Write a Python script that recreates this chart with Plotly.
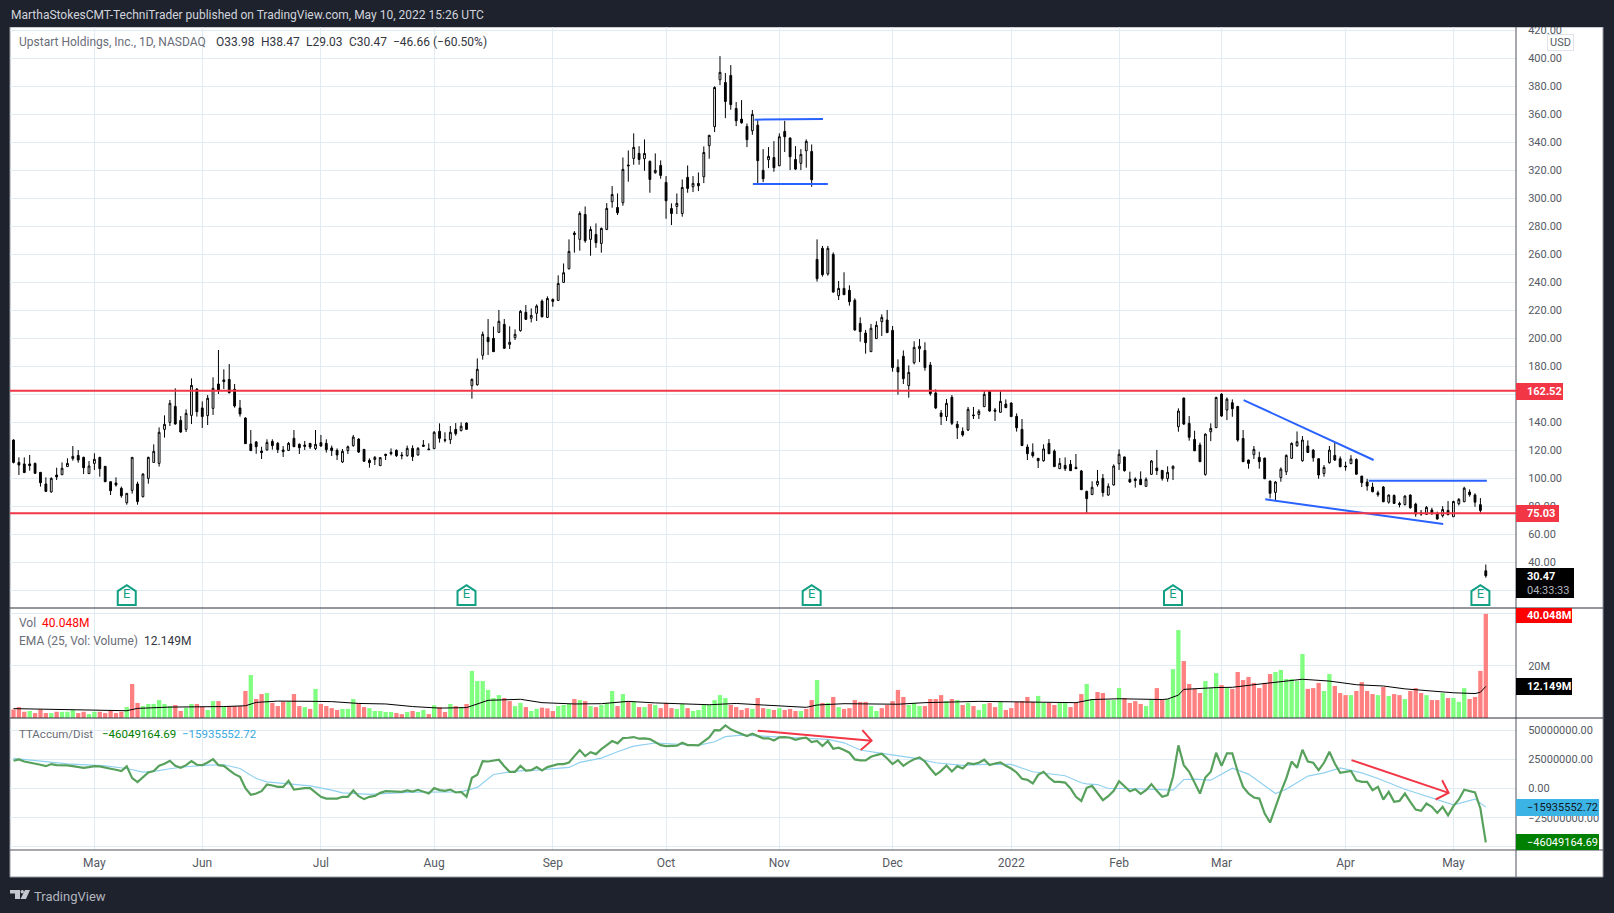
import plotly.graph_objects as go

W, H = 1614, 913
FONT = "Roboto"

opens = [
127.4,111.4,110.3,110.3,110.7,104.3,96,90.3,102.4,102.6,
108.4,114.1,116.4,115,103.4,110.7,115,108.6,97.6,96.7,
92.9,82.6,91.4,96,86.9,100,111.4,110.7,135,140,
151.4,141.4,135,145,163.8,150.3,144.8,150,167.4,170.3,
170.7,163.6,150.3,143.1,124.5,126,119.5,120.3,126.4,125,
120.3,120,128.6,124.3,123.8,125,121.2,125.5,125,121.7,
120,111.7,119.8,123.4,128.1,120.7,112.9,113.4,109.1,117.2,
118.6,120,116.7,116.2,121.4,116.7,123.8,121,121.2,133.6,
127.6,127.6,135,134.1,139.5,166.2,166.9,187.9,200.7,200,
204.3,210,195.7,200.5,205.5,218.6,214.3,217.9,
226.6,215,227.8,227.1,240,249.7,275.2,270.7,288.5,270.7,
274.2,267.8,277.8,297.6,293.5,296.9,323.8,328.5,332.1,328.3,
326.4,318.3,323.5,311.4,292.8,294.2,289.2,315,308.3,310.7,
315.4,337.6,351.2,384.7,382.8,387.8,364.2,356.6,351.4,348.3,
352.3,320,327.6,329.2,323.3,347.8,343.1,327.8,325,334,
333.5,256.4,264.3,246,260,230.5,235.7,234.3,227.2,210.7,
203.8,190.5,199.8,211.9,213.1,205.7,179.3,187.2,166.2,182.6,
192.6,191.4,181,161,146.7,144.1,157.9,138.6,133.6,134.5,
145.3,145.7,151.2,162.2,148.8,147.2,153.1,153.8,144.3,135,
122.4,118.6,114.3,112.6,125,119.5,106.9,109.3,110,107.9,
105.3,90.7,88.4,95.5,100,88.1,95.3,110.5,115.3,99.3,
99.5,99.3,94.3,102.9,107.4,105.7,99.8,106.9,136.9,157.4,
139.3,127.8,123.8,102.8,133.3,136.2,160.2,148.8,154,151.4,
128.5,113.1,116.9,115,114.5,98.1,90,100.5,104.7,114.3,
123.3,112.6,123.1,120.2,114,103.5,111.2,116.4,114,108.8,
110.5,113.5,101.6,97.4,93.8,89.7,93.8,83,87.8,82.1,
81.2,88.1,81.6,75.4,74.3,77.4,74.7,73.3,77.1,72.6,
81.9,83.3,90.2,88.1,81.2,33.98]

highs = [
127.9,115,115,116.7,111.2,104.5,100.7,100.7,107.6,111.4,
114.3,123.1,120.3,115.5,112.4,117.9,115.4,108.8,97.8,100.7,
94.1,89.5,115.2,97.6,103.6,115.5,124.3,136.4,145,156,
164.3,144.5,149.3,171.4,164.3,155,159.5,172.2,191.7,177.9,
181.7,167.4,156,143.6,134.5,126.7,122.6,127.9,127.9,126,
123.1,126,134.5,125,126.7,125.2,134.5,131,127.9,123.4,
121.4,121,123.4,131,128.6,121,114.3,116,115,117.6,
121.4,120.7,118.8,123.4,123.6,122.4,127.4,125,133.8,139.3,
132.9,137.4,139.5,140,140,171.4,185.7,204.8,213.8,208.4,
220.3,213.8,208.6,206.4,220.3,223.8,221.4,224.3,
227.8,230,228.5,245,253.5,270.7,276.6,290.7,294.2,280,
282.1,279.2,296.6,308.8,303.5,329.2,334.2,346.4,337.3,342.1,
327.1,332.1,327.1,315.9,296.4,303.5,313.5,323.5,315.9,318.5,
337.1,345.4,380,401.6,389.5,395.2,368.8,370.2,353.5,363.1,
355.9,335.2,336.6,340.9,346.4,355.4,343.5,337.3,335.2,342.1,
338.5,270.7,266,266,261.4,241,247.2,237.9,228.6,215,
206,210.3,212.2,217.2,220.3,208.8,185,191.4,180.7,197.9,
199.5,197.2,183.1,163.6,148.8,156.7,159.5,141,136.4,151,
151,149.3,163.1,163,150.3,162.2,156.4,154.3,146.4,142.4,
124.3,125,114.5,124.3,128.1,120.7,114.5,115,113.1,117.4,
106,91.2,97.9,106,103.1,96.4,110,120.7,115.5,104.8,
100.7,105,100.7,113.1,120.3,106,108.6,109.3,150,157.6,
144.5,134,125.5,132.1,139.3,158.3,160.7,157.8,156.4,151.6,
134.5,113.3,123.1,119,114.7,98.3,98.1,107.8,117.1,125.7,
133.5,130.2,127.1,120.9,114.5,109.5,123.1,125.5,115.7,111.9,
116.6,114.3,101.8,99.7,96.9,91.2,94.5,88.5,88.5,83.3,
87.8,88.5,82.6,77.4,80.2,79,76.2,80.2,83.8,84,
85.9,94,92.1,89.3,85.9,38.47]

lows = [
110.7,102.4,104.1,105.5,103.1,94.1,90.3,89.8,98.8,102.4,
108.4,112.6,111.2,103.1,103.1,106,101.2,97.4,88.1,94.1,
86.2,81.2,89.1,81.2,86.4,96.2,111.2,108.4,129.1,137.4,
138.4,132.6,133.1,138.8,144.1,136,138.1,145.3,160.3,163.8,
160.7,150.5,144.1,124.6,119.6,117.6,113.8,119.8,120.5,118.1,
115.3,119.5,122.4,117.4,120.3,121,120.3,122.6,118.4,116,
113.1,111,117.4,122.6,118.1,112,107.6,109.5,108.8,113.1,
116.4,115.3,113.6,115.5,112.4,116.2,122.6,120.5,121,125.5,
125.7,124.5,130.5,133.6,134.8,156.9,166.2,184.8,188.1,190.3,
203.8,192.4,192.4,198.8,204.8,213.1,211.4,212.4,
215,214.5,222.6,226.9,239.7,249.2,261.2,262.6,268.3,259,
264.7,261.2,277.3,293.3,288.1,294.7,311.9,324,324,319.7,
304,317.6,314,285.4,280.9,288.8,286.9,304,304.5,305.2,
310.9,328.3,347.3,380.9,357.3,363.3,351.6,353.3,336.6,345.4,
310.2,311.6,321.6,319,323,333.1,320.2,320.2,320.2,321.9,
308.3,240.5,244.1,244.8,232.6,227.4,231,223.4,205.5,197.6,
189.1,190.3,199.6,201.7,204,176.2,159.8,167.4,157.6,181.4,
183.1,176.9,159.1,149.5,138.1,141,138.1,128.1,129.8,133.8,
142.4,142.4,151,147.6,141,147,150.3,144,133.4,123.1,
113.1,114.8,107.4,111.9,117.4,108.1,106.7,105.3,105.3,106.7,
91.7,75.3,88.1,94.1,86.9,87.6,94.8,106,104.8,96.9,
93.4,95.3,94.1,102.4,102.4,98.4,97.6,98.8,133.3,138.1,
126.9,119.5,111.7,101.9,126.6,136,144,141.6,144,126.2,
111.7,106.9,113.8,106.9,99.5,85.7,84.5,97.6,102.4,114,
122.6,111.9,118.1,111.9,99.7,101.2,110.5,112.4,108,105.5,
110.2,102.6,93.8,91.2,90,86.9,83,81.9,81.9,79.3,
80.7,78.3,72.6,73.3,74,74,70.7,72.1,73.8,72.5,
80.7,83,86.9,79.7,75.5,29.03]

closes = [
111.4,109.5,104.1,109.1,103.6,96.9,90.7,100,101,107.2,
110.7,115.7,113.1,107.6,108.8,113.6,106.9,97.6,91.2,95.3,
87.6,89.3,115,83.4,103.1,115,119.3,132.9,138.6,153.6,
138.8,133.1,146.4,166.4,147.6,144.1,157.2,164.3,163.1,169.1,
161.2,151.7,146,124.8,119.8,122.6,118.4,125.7,123.4,120.5,
119.1,125,122.6,121.9,122.9,122.4,124.3,123.1,120.5,119.8,
116.7,119.3,122.6,129.5,118.8,112.2,111.2,115,114.8,116.4,
117.6,116.2,116.2,121.4,115.5,121.4,122.9,120.5,132.9,128.6,
127.2,132.9,131.9,137.2,135,170.7,177.9,202.9,197.6,190.5,
212.2,192.9,197.2,202.9,219.3,213.6,216.4,223.1,
215.4,228.5,226.4,239.2,246.9,262.1,274.2,289.2,269.7,277.8,
268.3,278.5,292.8,302.8,289.7,320.7,323.3,336.4,327.8,332.1,
313.5,320,316.4,298.3,289.2,296.4,307.8,307.1,310.7,309,
332.8,345,379.2,390,369.2,366.9,355.4,354,341.9,360,
326.9,314,330,321.9,344,344,329.7,320.9,331.4,340.7,
313.3,242.6,245.5,264.3,233.1,235.7,231.2,226.2,206,204.8,
196.9,207.2,209.3,215,204.1,179.1,176,171.2,175.7,193.6,
194.3,179.1,160.5,150.3,144.1,153.6,139.3,136.2,131,149.3,
144.8,147.9,160,148.1,147.9,155,150.5,144.1,136.2,123.4,
117.6,116.2,112.6,121,117.6,108.4,110.7,106.9,105.5,106.9,
91.9,85.5,93.6,97.9,89.8,94.3,108.8,117.2,105.5,97.4,
98.4,95.5,99.3,112.4,105.5,99.8,104.3,108.6,148.1,138.8,
129.3,119.7,111.9,131.6,135.7,157.8,144.5,156.6,149.7,127.4,
111.9,110.7,120.7,111.9,99.7,89.3,97.4,106.6,116.4,125,
126.2,127.4,118.5,114.7,102.4,107.8,120.2,113.1,108.3,108.3,
113.8,103,96.9,94.5,90.5,88.3,83.3,88.1,82.1,81.2,
87.4,79,74.5,74.5,79.3,74.7,70.9,77.8,74,83.5,
85,93,88.3,83,77.13,30.47]

# volume in millions
volumes = [
3.3,4.2,2.4,2.7,1.9,3.3,1.9,1.9,2.4,2.4,
2.4,3.1,1.9,2.4,1.5,2.4,2.4,1.9,2.7,1.9,
2.4,4.2,13.1,5.8,4.6,5.4,5.4,6.9,5.4,4.6,
5.0,2.7,4.0,5.4,5.4,4.4,3.1,6.5,6.5,4.4,
4.6,4.6,4.6,10.4,16.5,7.3,9.2,9.6,5.8,4.6,
6.3,6.3,9.2,4.6,4.2,3.5,11.2,5.4,4.6,3.8,
3.1,3.5,3.5,7.3,5.8,4.2,3.8,2.7,2.7,2.3,
2.3,1.9,1.5,2.3,2.7,2.3,3.1,1.5,4.9,4.2,
2.3,5.4,4.6,4.2,5.4,18.1,14.2,14.2,10.8,7.7,
8.8,7.7,6.5,4.6,5.8,4.2,2.7,3.5,
4.0,3.7,2.7,4.6,5.0,5.4,7.3,6.9,6.5,4.6,
4.2,5.0,5.8,10.4,4.6,9.2,6.5,6.2,4.2,4.2,
5.4,5.0,3.8,5.8,3.8,3.5,5.4,3.8,2.7,3.1,
5.0,5.0,6.9,8.8,7.7,5.0,4.2,3.1,3.8,3.5,
7.7,3.8,3.5,3.1,3.8,3.1,3.5,2.7,2.7,3.5,
6.9,14.6,5.8,5.8,8.1,4.2,3.5,3.8,6.9,6.2,
6.2,4.6,2.7,3.8,5.0,6.5,10.8,8.1,5.0,5.8,
4.6,4.6,7.3,7.3,8.8,6.5,7.3,6.9,5.0,5.8,
4.6,3.1,5.4,5.8,4.2,6.2,3.1,3.8,6.2,6.5,
8.1,6.2,8.5,5.8,5.8,5.0,5.8,6.2,4.2,5.8,
9.2,13.1,7.3,10.0,9.6,6.9,6.9,11.5,7.7,5.8,
6.5,5.4,4.6,6.9,11.5,6.9,7.3,18.8,33.8,21.9,
13.1,11.2,9.6,14.2,11.5,17.3,12.7,11.5,11.2,17.7,
14.6,15.8,13.5,11.5,13.5,16.9,17.7,18.5,15.0,15.0,
14.2,24.6,11.2,11.5,13.5,10.4,16.9,12.3,9.6,8.8,
8.8,10.4,13.8,10.4,9.2,8.8,11.9,8.5,9.2,8.8,
7.3,10.4,11.5,9.6,8.8,6.9,6.9,9.6,7.7,7.7,
6.2,11.5,7.3,8.1,18.1,40.048]

volume_dirs = (
"RRRGRRRGRG" "GGRRGGRRRR" "RGRRGGGGGG" "RRGGRRGGRG" "RRRRGRRGRR"
"RGRRGRGRRR" "RGGGRRGGGG" "GRRGRGGRGR" "RGRGRGGGGG" "GRRGGRGG"
"RR" "RGGGRGRGRG" "GGRGRGRGRG" "RRRGGRGGGG" "GGGRRRRGRR"
"GRGRRRGRRG" "RGRGRRRRRG" "GRRRRRGGGR" "RRRGRGRGRG" "GRRGRRRRRR"
"GGRRGGRRRG" "GRRGGGRRRR" "GGRRGGGRRR" "RGGGRGRRRR" "RRRRGGGGGG"
"RRRGGRRRGR" "RRRGRGRRGR" "RRGRRGRGGG" "RRRR")

ema_bars = [1,10,20,22,24,30,40,44,46,50,57,60,65,70,75,80,85,87,89,95,99,105,110,115,120,130,135,
            140,148,150,155,165,170,180,190,198,201,206,214,215,217,218,224,227,231,237,240,245,250,255,259,268,272,273,274]
ema_vals = [3.6,3.2,2.7,2.8,3.7,4.2,4.4,4.7,6.0,6.5,6.4,6.3,5.6,5.4,4.4,3.8,4.0,5.5,6.8,7.2,5.9,5.4,5.5,6.4,5.8,5.1,5.6,
            5.0,4.1,5.0,5.5,5.3,5.9,6.4,6.0,5.9,7.1,7.4,7.1,7.3,8.8,11.0,11.7,11.8,12.8,14.1,14.9,14.2,12.8,12.3,11.2,9.7,9.4,9.9,12.149]

# TTAccum/Dist in millions
accum = [
23.7,24.9,23.1,22.3,21.4,20.3,19.1,20.9,20,20,
19.7,19.1,18.6,17.7,18.3,19.1,18.9,17.7,16.9,16,
14.9,18.9,8.9,5.4,10,13.7,14.9,19.4,21.1,23.7,
19.4,17.7,20,23.4,20.3,20,22.3,25.1,20,19.4,
15.7,12.3,10,0.3,-5.4,-4.3,-2.3,3.4,2.6,1.4,
1.4,6.6,-0.9,0,0.3,0.3,-3.7,-7.1,-8.6,-8.6,
-8.6,-7.1,-7.1,-1.7,-6.6,-9.1,-7.1,-6.3,-3.7,-2.3,
-2.3,-2.9,-2.9,-1.7,-2.6,-1.1,-2.9,-4.3,0.3,-1.4,
-2,-0.9,-3.4,-2.9,-7.1,9.1,11.7,23.4,23.1,23.7,
24.6,19.1,14.3,14.3,19.4,15.4,15.7,18.3,
15.4,18.3,19.4,20.9,20.9,22.3,27.7,32.9,27.7,31.1,
29.4,33.7,37.1,40.6,38.6,43.1,43.4,44,42.6,42.9,
42.3,40,37.1,36.3,36.3,36.6,39.1,37.1,37.1,36.9,
40.3,43.7,50,49.7,54,50.6,48.6,46.6,44.9,46.9,
45.1,42.9,42.9,41.1,43.7,44,43.4,41.7,42.9,43.4,
39.7,40.6,36.3,40.6,34,34.9,32.9,30.6,24.9,24,
24,27.1,28.6,29.7,25.7,20.9,24.3,19.4,22.6,25.1,
26.6,23.1,17.1,11.7,15.1,19.7,14.6,19.1,17.1,21.7,
20.9,22,24.6,20,21.4,22.3,19.4,17.1,13.7,8.3,
7.4,4.3,11.7,14.3,9.4,5.7,5.7,5.1,0,-7.1,-10.6,
0.6,2.3,-4.3,-10,-6.6,-2,6.3,2,-2.3,-0.6,
-4.6,-1.4,3.7,-2,-7.1,-5.7,10,36.9,20,14.3,
4.3,-4.3,9.4,14.3,30.6,19.4,30,30,14.3,1.4,
-4.3,-7.7,-8.6,-21.4,-29.1,-15.7,-2.9,8.6,23.1,17.7,
33.1,23.1,22,15.7,22,31.4,21.4,13.4,14.3,15.1,
7.1,5.7,5.7,-1.4,1.4,-9.4,-2.9,-11.4,-10.6,-4.3,
-11.4,-18,-19.1,-12.9,-15.7,-20.9,-15.7,-22.9,-15.1,-9.4,
-1.1,-2,-3.4,-17.1,-46.05]

signal_bars = [1,5,11,18,22,25,27,30,33,37,40,43,46,48,51,56,60,62,67,75,84,87,90,94,98,
               104,106,110,113,116,120,124,128,131,133,136,140,148,152,155,158,162,168,172,177,181,186,190,196,199,
               200,202,204,208,213,216,218,220,223,225,227,230,232,235,237,241,244,247,251,254,259,264,268,272,274]
signal_vals = [25.7,23.7,21.1,19.4,17.1,14,14.6,16.9,18.6,20,20.3,17.1,8.6,5.7,4.6,2.3,-1.4,-3.7,-5.1,-3.1,-2.9,0.9,12,14.9,15.7,
               18,22.3,26,31.4,36.3,38.9,37.7,36.9,40,44.3,45.7,44.9,43.4,42,39.1,32.9,30,26,22,19.7,20.6,20.6,14.3,10.9,4.9,
               4,3.4,0,0,-0.9,-1.4,7.7,8,7.1,12.3,17.4,12.3,5.7,-4.3,-0.6,10.6,13.4,17.7,13.4,8.6,-0.6,-7.7,-14,-9.1,-15.94]

month_bars = [16,36,58,79,101,122,143,164,186,206,225,248,268]
month_labels = ["May","Jun","Jul","Aug","Sep","Oct","Nov","Dec","2022","Feb","Mar","Apr","May"]

price_ticks = list(range(20, 440, 20))
price_labels = ["" if v in (20, 160) else f"{v}.00" for v in price_ticks]
vol_ticks, vol_labels = [20, 40], ["20M", ""]
ind_ticks = [50, 25, 0, -25, -50]
ind_labels = ["50000000.00", "25000000.00", "0.00", "\u221225000000.00", ""]

level_prices = [162.52, 75.03]
flag_top = ([138.4, 151.1], [356.2, 356.6])
flag_bottom = ([138.1, 152.0], [310.2, 310.2])
wedge_top = ([229.1, 253.2], [155.9, 113.1])
wedge_bottom = ([233.1, 266.1], [85.0, 67.4])
base_top = ([252.3, 274.2], [98.3, 98.3])
arrow_one = ([139, 160.1, None, 158.4, 160.1, 158.1], [49.4, 40.9, None, 50, 40.9, 32.9])
arrow_two = ([249.1, 267.1, None, 265.9, 267.1, 264.7], [24.3, -3.7, None, 7.1, -3.7, -9.4])
earnings_bars = [22, 85, 149, 216, 273]
EARN_Y = 16.6

bars = list(range(1, len(closes) + 1))
assert len(opens) == len(highs) == len(lows) == len(closes) == len(volumes) == len(accum) == len(volume_dirs)

BLUE, RED, TEAL, GRID = "#2962ff", "#f23645", "#12a085", "#e1ecf2"
DARK, TXT = "#1e222d", "#555962"
XRANGE = [0.35, 279.6]
LEFT, RIGHT, PANE_END, BOTTOM, TOP = 10, 1516, 1603, 877, 27
S1, S2, S3 = 608, 718, 850

def fx(p): return p / W
def fy(p): return 1 - p / H

fig = go.Figure()
fig.add_trace(go.Candlestick(
    x=bars, open=opens, high=highs, low=lows, close=closes, whiskerwidth=0,
    increasing=dict(line=dict(color="#000000", width=1), fillcolor="#ffffff"),
    decreasing=dict(line=dict(color="#000000", width=1), fillcolor="#000000"),
    xaxis="x", yaxis="y", showlegend=False))
for (xs, ys) in (flag_top, flag_bottom, wedge_top, wedge_bottom, base_top):
    fig.add_trace(go.Scatter(x=xs, y=ys, mode="lines", line=dict(color=BLUE, width=2),
                             xaxis="x", yaxis="y", showlegend=False))
fig.add_trace(go.Scatter(x=earnings_bars, y=[EARN_Y] * len(earnings_bars), mode="text", text=["E"] * len(earnings_bars),
                         textfont=dict(family=FONT, size=13, color=TEAL), textposition="middle center",
                         xaxis="x", yaxis="y", showlegend=False))

fig.add_trace(go.Bar(x=bars, y=volumes, width=0.8,
                     marker=dict(color=["#80ff80" if d == "G" else "#ff8080" for d in volume_dirs], line_width=0),
                     xaxis="x2", yaxis="y2", showlegend=False))
fig.add_trace(go.Scatter(x=ema_bars, y=ema_vals, mode="lines", line=dict(color="#000000", width=1),
                         xaxis="x2", yaxis="y2", showlegend=False))

fig.add_trace(go.Scatter(x=signal_bars, y=signal_vals, mode="lines", line=dict(color="#90d0f0", width=1.2),
                         xaxis="x3", yaxis="y3", showlegend=False))
fig.add_trace(go.Scatter(x=bars, y=accum, mode="lines", line=dict(color="#57a15c", width=2.2),
                         xaxis="x3", yaxis="y3", showlegend=False))
for (xs, ys) in (arrow_one, arrow_two):
    fig.add_trace(go.Scatter(x=xs, y=ys, mode="lines", line=dict(color=RED, width=2),
                             xaxis="x3", yaxis="y3", showlegend=False))

shapes = [
    dict(type="rect", xref="paper", yref="paper", x0=fx(LEFT), x1=fx(PANE_END), y0=fy(BOTTOM), y1=fy(TOP),
         fillcolor="#ffffff", line=dict(color="#9598a1", width=1), layer="below"),
    dict(type="rect", xref="paper", yref="paper", x0=0, x1=1, y0=fy(TOP), y1=1,
         fillcolor=DARK, line_width=0, layer="above"),
    dict(type="line", xref="paper", yref="paper", x0=fx(RIGHT), x1=fx(RIGHT), y0=fy(BOTTOM), y1=fy(TOP),
         line=dict(color="#50535e", width=1), layer="above"),
]
for yp, c in ((S1, "#2a2e39"), (S2, "#2a2e39"), (S3, "#50535e")):
    shapes.append(dict(type="line", xref="paper", yref="paper", x0=fx(LEFT), x1=fx(PANE_END), y0=fy(yp), y1=fy(yp),
                       line=dict(color=c, width=1), layer="above"))
for v in level_prices:
    shapes.append(dict(type="line", xref="x domain", yref="y", x0=0, x1=1, y0=v, y1=v,
                       line=dict(color=RED, width=2), layer="above"))
for b in earnings_bars:
    shapes.append(dict(type="path", xref="x", yref="y", xsizemode="pixel", ysizemode="pixel",
                       xanchor=b, yanchor=EARN_Y,
                       path="M -9 -10 L 9 -10 L 9 4 L 0 10 L -9 4 Z",
                       line=dict(color=TEAL, width=2), fillcolor="rgba(255,255,255,0)", layer="above"))
# TradingView mark in the footer
def pth(points):
    return "M " + " L ".join(f"{fx(x):.5f} {fy(y):.5f}" for x, y in points) + " Z"
LOGO = "#c4c7cf"
shapes += [
    dict(type="path", xref="paper", yref="paper", fillcolor=LOGO, line_width=0,
         path=pth([(10, 890), (20, 890), (20, 899), (15, 899), (15, 893.5), (10, 893.5)])),
    dict(type="path", xref="paper", yref="paper", fillcolor=LOGO, line_width=0,
         path=pth([(25, 890), (30, 890), (26, 899), (20.5, 899)])),
    dict(type="circle", xref="paper", yref="paper", fillcolor=LOGO, line_width=0,
         x0=fx(20.5), x1=fx(24), y0=fy(893.5), y1=fy(890)),
]

# value flags on the price scale: coloured rectangle, then its text
flag_rects = [
    (1563, 383, 400, RED), (1559, 505, 522, RED), (1574, 568, 598, "#000000"),
    (1572, 608, 623, "#ff0000"), (1572, 678, 695, "#000000"),
    (1599, 799, 816, "#3bb3e4"), (1599, 834, 850, "#008000"),
]
for x1, y0, y1, c in flag_rects:
    shapes.append(dict(type="rect", xref="paper", yref="paper", x0=fx(RIGHT), x1=fx(x1), y0=fy(y1), y1=fy(y0),
                       fillcolor=c, line_width=0, layer="above"))

def label(text, x, y, color, size=12):
    return dict(text=text, xref="paper", yref="paper", x=fx(x), y=fy(y), xanchor="left", yanchor="middle",
                showarrow=False, align="left", font=dict(family=FONT, size=size, color=color), borderpad=0)

annots = [
    label("MarthaStokesCMT-TechniTrader published on TradingView.com, May 10, 2022 15:26 UTC", 10, 15, "#d1d4dc"),
    label("Upstart Holdings, Inc., 1D, NASDAQ", 18, 42, "#6a6d78"),
    label("O33.98", 215, 42, "#333640"), label("H38.47", 260, 42, "#333640"),
    label("L29.03", 305, 42, "#333640"), label("C30.47", 347.5, 42, "#333640"),
    label("\u221246.66", 391.5, 42, "#333640"), label("(\u221260.50%)", 431.5, 42, "#333640"),
    label("Vol", 18, 623, "#6a6d78"), label("40.048M", 41, 623, "#ff0000"),
    label("EMA (25, Vol: Volume)", 18, 641, "#6a6d78"), label("12.149M", 143, 641, "#333640"),
    label("TTAccum/Dist", 18, 734, "#6a6d78", 11.5), label("\u221246049164.69", 100.5, 734, "#008000", 11.5),
    label("\u221215935552.72", 181, 734, "#39a9e0", 11.5),
    label("TradingView", 33, 896, "#b2b5be", 13),
    label("<b>162.52</b>", 1526, 391.5, "#ffffff", 11),
    label("<b>75.03</b>", 1526, 513.5, "#ffffff", 11),
    label("<b>30.47</b>", 1526, 576, "#ffffff", 11),
    label("04:33:33", 1526, 590, "#b2b5be", 11),
    label("<b>40.048M</b>", 1526, 615.5, "#ffffff", 11),
    label("<b>12.149M</b>", 1526, 686.5, "#ffffff", 11),
    label("\u221215935552.72", 1526, 807.5, "#131722", 11),
    label("\u221246049164.69", 1526, 842, "#ffffff", 11),
    dict(text="USD", xref="paper", yref="paper", x=fx(1547), y=fy(42.5), xanchor="left", yanchor="middle",
         showarrow=False, width=25, height=15, bgcolor="#ffffff", bordercolor="#e0e3eb", borderwidth=1, borderpad=0,
         font=dict(family=FONT, size=11, color="#555962")),
]

def xax(**kw):
    base = dict(domain=[fx(LEFT), fx(RIGHT)], range=XRANGE, showgrid=True, gridcolor=GRID, gridwidth=1,
                tickmode="array", tickvals=month_bars, ticktext=month_labels, zeroline=False, showline=False,
                rangeslider=dict(visible=False), ticks="", tickfont=dict(family=FONT, size=12, color=TXT))
    base.update(kw)
    return base

def yax(domain, rng, vals, text):
    return dict(domain=domain, range=rng, side="right", tickmode="array", tickvals=vals, ticktext=text,
                showgrid=True, gridcolor=GRID, gridwidth=1, zeroline=False, showline=False,
                ticks="outside", ticklen=9, tickcolor="rgba(0,0,0,0)",
                tickfont=dict(family=FONT, size=11, color=TXT))

fig.update_layout(
    width=W, height=H, margin=dict(l=0, r=0, t=0, b=0, pad=0, autoexpand=False),
    paper_bgcolor=DARK, plot_bgcolor="rgba(0,0,0,0)", showlegend=False, bargap=0.2, boxgap=0.52,
    hovermode=False, shapes=shapes, annotations=annots,
    xaxis=xax(anchor="y", showticklabels=False),
    xaxis2=xax(anchor="y2", showticklabels=False),
    xaxis3=xax(anchor="y3", showticklabels=True, ticks="outside", ticklen=2, tickcolor="rgba(0,0,0,0)"),
    yaxis=yax([fy(S1), fy(TOP)], [7.4, 422.4], price_ticks, price_labels),
    yaxis2=yax([fy(S2), fy(S1)], [0, 42.3], vol_ticks, vol_labels),
    yaxis3=yax([fy(S3), fy(S2)], [-52.6, 60.3], ind_ticks, ind_labels),
)

fig.write_html("out.html", config=dict(displayModeBar=False),
               post_script="document.body.style.margin='0';document.body.style.background='#1e222d';document.body.style.overflow='hidden';")
